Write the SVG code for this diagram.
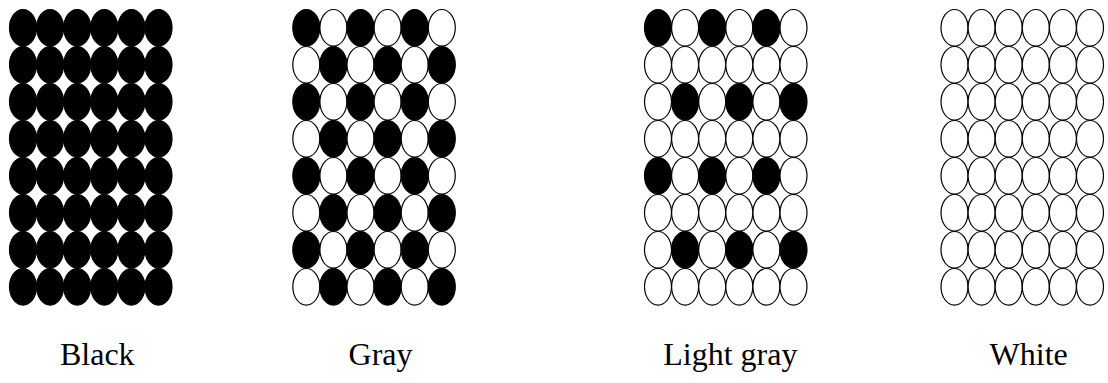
<svg xmlns="http://www.w3.org/2000/svg" xmlns:xlink="http://www.w3.org/1999/xlink" width="1108" height="383" viewBox="0 0 1108 383">
<style>
.b{fill:#000;stroke:#000;stroke-width:1.2}
.w{fill:#fff;stroke:#000;stroke-width:1.2}
.lbl{font-family:"Liberation Serif","Times New Roman",serif;font-size:32px;fill:#000;text-anchor:middle}
</style>
<defs>
<ellipse id="e" cx="0" cy="0" rx="13.5" ry="18.3"/>
</defs>
<rect width="1108" height="383" fill="#fff"/>
<g id="black" transform="translate(23,27.8)">
<use href="#e" x="0" y="0" class="b"/><use href="#e" x="27.1" y="0" class="b"/><use href="#e" x="54.2" y="0" class="b"/><use href="#e" x="81.3" y="0" class="b"/><use href="#e" x="108.4" y="0" class="b"/><use href="#e" x="135.5" y="0" class="b"/>
<use href="#e" x="0" y="37" class="b"/><use href="#e" x="27.1" y="37" class="b"/><use href="#e" x="54.2" y="37" class="b"/><use href="#e" x="81.3" y="37" class="b"/><use href="#e" x="108.4" y="37" class="b"/><use href="#e" x="135.5" y="37" class="b"/>
<use href="#e" x="0" y="74" class="b"/><use href="#e" x="27.1" y="74" class="b"/><use href="#e" x="54.2" y="74" class="b"/><use href="#e" x="81.3" y="74" class="b"/><use href="#e" x="108.4" y="74" class="b"/><use href="#e" x="135.5" y="74" class="b"/>
<use href="#e" x="0" y="111" class="b"/><use href="#e" x="27.1" y="111" class="b"/><use href="#e" x="54.2" y="111" class="b"/><use href="#e" x="81.3" y="111" class="b"/><use href="#e" x="108.4" y="111" class="b"/><use href="#e" x="135.5" y="111" class="b"/>
<use href="#e" x="0" y="148" class="b"/><use href="#e" x="27.1" y="148" class="b"/><use href="#e" x="54.2" y="148" class="b"/><use href="#e" x="81.3" y="148" class="b"/><use href="#e" x="108.4" y="148" class="b"/><use href="#e" x="135.5" y="148" class="b"/>
<use href="#e" x="0" y="185" class="b"/><use href="#e" x="27.1" y="185" class="b"/><use href="#e" x="54.2" y="185" class="b"/><use href="#e" x="81.3" y="185" class="b"/><use href="#e" x="108.4" y="185" class="b"/><use href="#e" x="135.5" y="185" class="b"/>
<use href="#e" x="0" y="222" class="b"/><use href="#e" x="27.1" y="222" class="b"/><use href="#e" x="54.2" y="222" class="b"/><use href="#e" x="81.3" y="222" class="b"/><use href="#e" x="108.4" y="222" class="b"/><use href="#e" x="135.5" y="222" class="b"/>
<use href="#e" x="0" y="259" class="b"/><use href="#e" x="27.1" y="259" class="b"/><use href="#e" x="54.2" y="259" class="b"/><use href="#e" x="81.3" y="259" class="b"/><use href="#e" x="108.4" y="259" class="b"/><use href="#e" x="135.5" y="259" class="b"/>
</g>
<g id="gray" transform="translate(306.3,27.8)">
<use href="#e" x="0" y="0" class="b"/><use href="#e" x="27.1" y="0" class="w"/><use href="#e" x="54.2" y="0" class="b"/><use href="#e" x="81.3" y="0" class="w"/><use href="#e" x="108.4" y="0" class="b"/><use href="#e" x="135.5" y="0" class="w"/>
<use href="#e" x="0" y="37" class="w"/><use href="#e" x="27.1" y="37" class="b"/><use href="#e" x="54.2" y="37" class="w"/><use href="#e" x="81.3" y="37" class="b"/><use href="#e" x="108.4" y="37" class="w"/><use href="#e" x="135.5" y="37" class="b"/>
<use href="#e" x="0" y="74" class="b"/><use href="#e" x="27.1" y="74" class="w"/><use href="#e" x="54.2" y="74" class="b"/><use href="#e" x="81.3" y="74" class="w"/><use href="#e" x="108.4" y="74" class="b"/><use href="#e" x="135.5" y="74" class="w"/>
<use href="#e" x="0" y="111" class="w"/><use href="#e" x="27.1" y="111" class="b"/><use href="#e" x="54.2" y="111" class="w"/><use href="#e" x="81.3" y="111" class="b"/><use href="#e" x="108.4" y="111" class="w"/><use href="#e" x="135.5" y="111" class="b"/>
<use href="#e" x="0" y="148" class="b"/><use href="#e" x="27.1" y="148" class="w"/><use href="#e" x="54.2" y="148" class="b"/><use href="#e" x="81.3" y="148" class="w"/><use href="#e" x="108.4" y="148" class="b"/><use href="#e" x="135.5" y="148" class="w"/>
<use href="#e" x="0" y="185" class="w"/><use href="#e" x="27.1" y="185" class="b"/><use href="#e" x="54.2" y="185" class="w"/><use href="#e" x="81.3" y="185" class="b"/><use href="#e" x="108.4" y="185" class="w"/><use href="#e" x="135.5" y="185" class="b"/>
<use href="#e" x="0" y="222" class="b"/><use href="#e" x="27.1" y="222" class="w"/><use href="#e" x="54.2" y="222" class="b"/><use href="#e" x="81.3" y="222" class="w"/><use href="#e" x="108.4" y="222" class="b"/><use href="#e" x="135.5" y="222" class="w"/>
<use href="#e" x="0" y="259" class="w"/><use href="#e" x="27.1" y="259" class="b"/><use href="#e" x="54.2" y="259" class="w"/><use href="#e" x="81.3" y="259" class="b"/><use href="#e" x="108.4" y="259" class="w"/><use href="#e" x="135.5" y="259" class="b"/>
</g>
<g id="lightgray" transform="translate(658,27.8)">
<use href="#e" x="0" y="0" class="b"/><use href="#e" x="27.1" y="0" class="w"/><use href="#e" x="54.2" y="0" class="b"/><use href="#e" x="81.3" y="0" class="w"/><use href="#e" x="108.4" y="0" class="b"/><use href="#e" x="135.5" y="0" class="w"/>
<use href="#e" x="0" y="37" class="w"/><use href="#e" x="27.1" y="37" class="w"/><use href="#e" x="54.2" y="37" class="w"/><use href="#e" x="81.3" y="37" class="w"/><use href="#e" x="108.4" y="37" class="w"/><use href="#e" x="135.5" y="37" class="w"/>
<use href="#e" x="0" y="74" class="w"/><use href="#e" x="27.1" y="74" class="b"/><use href="#e" x="54.2" y="74" class="w"/><use href="#e" x="81.3" y="74" class="b"/><use href="#e" x="108.4" y="74" class="w"/><use href="#e" x="135.5" y="74" class="b"/>
<use href="#e" x="0" y="111" class="w"/><use href="#e" x="27.1" y="111" class="w"/><use href="#e" x="54.2" y="111" class="w"/><use href="#e" x="81.3" y="111" class="w"/><use href="#e" x="108.4" y="111" class="w"/><use href="#e" x="135.5" y="111" class="w"/>
<use href="#e" x="0" y="148" class="b"/><use href="#e" x="27.1" y="148" class="w"/><use href="#e" x="54.2" y="148" class="b"/><use href="#e" x="81.3" y="148" class="w"/><use href="#e" x="108.4" y="148" class="b"/><use href="#e" x="135.5" y="148" class="w"/>
<use href="#e" x="0" y="185" class="w"/><use href="#e" x="27.1" y="185" class="w"/><use href="#e" x="54.2" y="185" class="w"/><use href="#e" x="81.3" y="185" class="w"/><use href="#e" x="108.4" y="185" class="w"/><use href="#e" x="135.5" y="185" class="w"/>
<use href="#e" x="0" y="222" class="w"/><use href="#e" x="27.1" y="222" class="b"/><use href="#e" x="54.2" y="222" class="w"/><use href="#e" x="81.3" y="222" class="b"/><use href="#e" x="108.4" y="222" class="w"/><use href="#e" x="135.5" y="222" class="b"/>
<use href="#e" x="0" y="259" class="w"/><use href="#e" x="27.1" y="259" class="w"/><use href="#e" x="54.2" y="259" class="w"/><use href="#e" x="81.3" y="259" class="w"/><use href="#e" x="108.4" y="259" class="w"/><use href="#e" x="135.5" y="259" class="w"/>
</g>
<g id="white" transform="translate(954.5,27.8)">
<use href="#e" x="0" y="0" class="w"/><use href="#e" x="27.1" y="0" class="w"/><use href="#e" x="54.2" y="0" class="w"/><use href="#e" x="81.3" y="0" class="w"/><use href="#e" x="108.4" y="0" class="w"/><use href="#e" x="135.5" y="0" class="w"/>
<use href="#e" x="0" y="37" class="w"/><use href="#e" x="27.1" y="37" class="w"/><use href="#e" x="54.2" y="37" class="w"/><use href="#e" x="81.3" y="37" class="w"/><use href="#e" x="108.4" y="37" class="w"/><use href="#e" x="135.5" y="37" class="w"/>
<use href="#e" x="0" y="74" class="w"/><use href="#e" x="27.1" y="74" class="w"/><use href="#e" x="54.2" y="74" class="w"/><use href="#e" x="81.3" y="74" class="w"/><use href="#e" x="108.4" y="74" class="w"/><use href="#e" x="135.5" y="74" class="w"/>
<use href="#e" x="0" y="111" class="w"/><use href="#e" x="27.1" y="111" class="w"/><use href="#e" x="54.2" y="111" class="w"/><use href="#e" x="81.3" y="111" class="w"/><use href="#e" x="108.4" y="111" class="w"/><use href="#e" x="135.5" y="111" class="w"/>
<use href="#e" x="0" y="148" class="w"/><use href="#e" x="27.1" y="148" class="w"/><use href="#e" x="54.2" y="148" class="w"/><use href="#e" x="81.3" y="148" class="w"/><use href="#e" x="108.4" y="148" class="w"/><use href="#e" x="135.5" y="148" class="w"/>
<use href="#e" x="0" y="185" class="w"/><use href="#e" x="27.1" y="185" class="w"/><use href="#e" x="54.2" y="185" class="w"/><use href="#e" x="81.3" y="185" class="w"/><use href="#e" x="108.4" y="185" class="w"/><use href="#e" x="135.5" y="185" class="w"/>
<use href="#e" x="0" y="222" class="w"/><use href="#e" x="27.1" y="222" class="w"/><use href="#e" x="54.2" y="222" class="w"/><use href="#e" x="81.3" y="222" class="w"/><use href="#e" x="108.4" y="222" class="w"/><use href="#e" x="135.5" y="222" class="w"/>
<use href="#e" x="0" y="259" class="w"/><use href="#e" x="27.1" y="259" class="w"/><use href="#e" x="54.2" y="259" class="w"/><use href="#e" x="81.3" y="259" class="w"/><use href="#e" x="108.4" y="259" class="w"/><use href="#e" x="135.5" y="259" class="w"/>
</g>
<g id="labels">
<text class="lbl" x="97.3" y="365">Black</text>
<text class="lbl" x="380.5" y="365">Gray</text>
<text class="lbl" x="730.3" y="365">Light gray</text>
<text class="lbl" x="1028.7" y="365">White</text>
</g>
</svg>
